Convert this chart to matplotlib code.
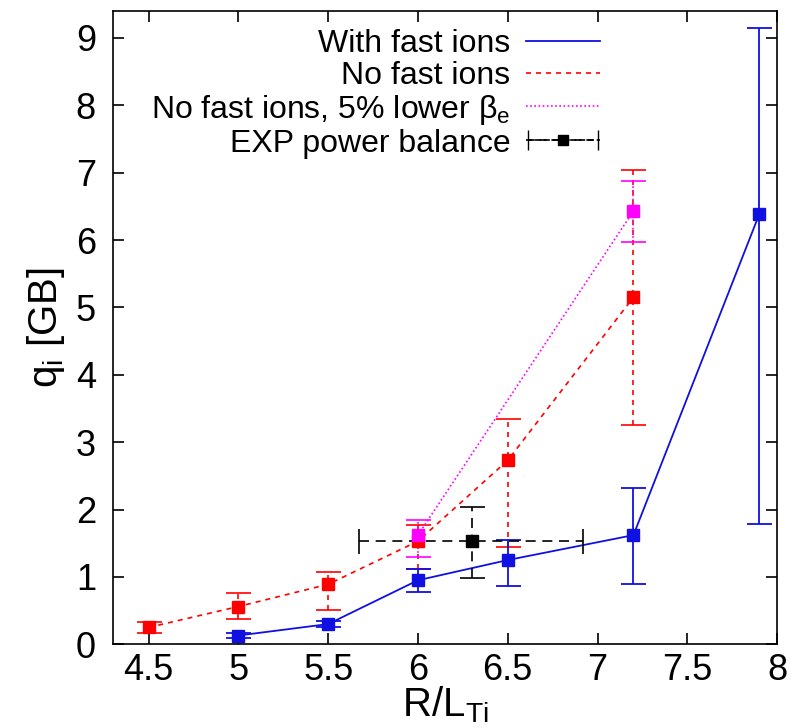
import matplotlib
matplotlib.use("Agg")
import matplotlib.pyplot as plt
import numpy as np
from matplotlib.legend_handler import HandlerErrorbar
from matplotlib.container import ErrorbarContainer

plt.rcParams["font.family"] = ["Liberation Sans", "DejaVu Sans"]
plt.rcParams["mathtext.fontset"] = "custom"
plt.rcParams["mathtext.rm"] = "Liberation Sans"
plt.rcParams["mathtext.it"] = "Liberation Sans"

# with fast ions
x_fi = [5.0, 5.5, 6.0, 6.5, 7.2, 7.9]
q_fi = [0.13, 0.30, 0.95, 1.25, 1.62, 6.38]
lo_fi = [0.10, 0.26, 0.77, 0.87, 0.90, 1.78]
hi_fi = [0.16, 0.34, 1.11, 1.55, 2.32, 9.15]

# no fast ions
x_nf = [4.5, 5.0, 5.5, 6.0, 6.5, 7.2]
q_nf = [0.25, 0.56, 0.89, 1.53, 2.73, 5.15]
lo_nf = [0.16, 0.38, 0.51, 1.12, 1.45, 3.26]
hi_nf = [0.33, 0.76, 1.07, 1.77, 3.34, 7.04]

# no fast ions, 5% lower beta_e
x_lb = [6.0, 7.2]
q_lb = [1.62, 6.43]
lo_lb = [1.30, 5.97]
hi_lb = [1.84, 6.87]

# experimental power balance
x_exp = [6.30]
q_exp = [1.53]
xlo_exp = [5.67]
xhi_exp = [6.92]
lo_exp = [0.98]
hi_exp = [2.04]


def yerr(q, lo, hi):
    q = np.asarray(q)
    return [q - np.asarray(lo), np.asarray(hi) - q]


fig = plt.figure(figsize=(7.93, 7.28), dpi=100)
ax = fig.add_axes([0.142, 0.115, 0.838, 0.870])

ms = 8
cs = 9

# error bars + markers
for xs, qs, lo, hi, col, ls, lw in [
        (x_nf, q_nf, lo_nf, hi_nf, "red", (0, (3, 3)), 1.2),
        (x_lb, q_lb, lo_lb, hi_lb, "#ff00ff", (0, (1, 1.5)), 1.2),
        (x_fi, q_fi, lo_fi, hi_fi, "#1010e0", "-", 1.3)]:
    ax.plot(xs, qs, color=col, ls=ls, lw=lw)
    eb = ax.errorbar(xs, qs, yerr=yerr(qs, lo, hi), fmt="s", color=col,
                     ms=ms, capsize=cs, elinewidth=lw, capthick=lw)
    eb[2][0].set_linestyle(ls)

xe = np.asarray(x_exp)
eb = ax.errorbar(x_exp, q_exp, yerr=yerr(q_exp, lo_exp, hi_exp),
                 xerr=[xe - np.asarray(xlo_exp), np.asarray(xhi_exp) - xe],
                 fmt="s", color="black", ms=ms, capsize=cs,
                 elinewidth=1.2, capthick=1.2)
for c in eb[2]:
    c.set_linestyle((0, (6, 4)))

# legend proxies
h1, = ax.plot([], [], color="#1010e0", lw=1.3)
h2, = ax.plot([], [], color="red", ls=(0, (3, 3)), lw=1.2)
h3, = ax.plot([], [], color="#ff00ff", ls=(0, (1, 1.5)), lw=1.2)
h4 = ax.errorbar([np.nan], [np.nan], xerr=[[1.0], [1.0]], fmt="s--",
                 color="black", ms=7, capsize=7, elinewidth=1.2, lw=1.2)
h4[2][0].set_linestyle((0, (4, 3)))

hl = 2.3
ax.legend([h1, h2, h3, h4],
          ["With fast ions", "No fast ions",
           r"No fast ions, 5% lower β$_\mathrm{e}$", "EXP power balance"],
          loc="upper right", bbox_to_anchor=(0.757, 0.997), frameon=False,
          fontsize=23, markerfirst=False, handlelength=hl,
          labelspacing=0.06, handletextpad=0.5, borderaxespad=0.1,
          handler_map={ErrorbarContainer: HandlerErrorbar(xerr_size=hl / 2 - 0.05)})

ax.set_xlim(4.3, 8.0)
ax.set_ylim(0, 9.4)
ax.set_xticks([4.5, 5, 5.5, 6, 6.5, 7, 7.5, 8])
ax.set_xticklabels(["4.5", "5", "5.5", "6", "6.5", "7", "7.5", "8"])
ax.set_yticks(range(10))
ax.tick_params(direction="in", length=8, width=1.2, top=True, right=True,
               labelsize=26)
ax.tick_params(axis="y", pad=12)
ax.tick_params(axis="x", pad=6)
for s in ax.spines.values():
    s.set_linewidth(1.2)

ax.set_xlabel(r"R/L$_\mathrm{Ti}$", fontsize=29, labelpad=-2)
ax.set_ylabel(r"q$_\mathrm{i}$ [GB]", fontsize=29, labelpad=6)

fig.savefig("out.png", dpi=100)
